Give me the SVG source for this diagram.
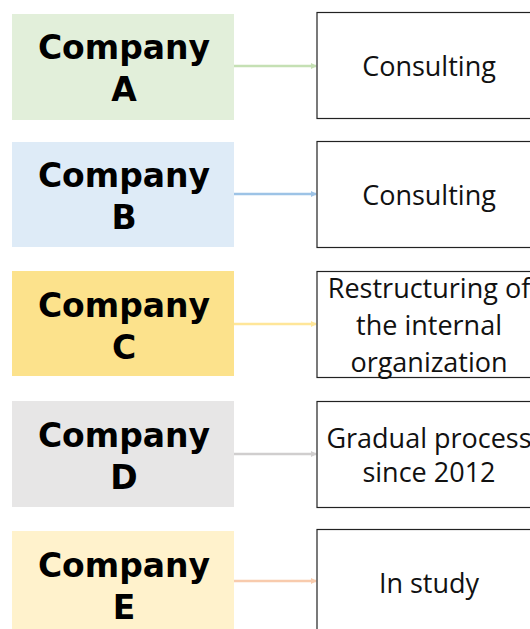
<svg xmlns="http://www.w3.org/2000/svg" width="530" height="629" viewBox="0 0 530 629">
<style>
.l{font-family:"DejaVu Sans",Lato,sans-serif;font-weight:bold;font-size:33px;fill:#000;text-anchor:middle}
.r{font-family:"Open Sans","Liberation Sans",sans-serif;font-size:27px;fill:#111;text-anchor:middle}
.rb{fill:#fff;stroke:#222;stroke-width:1.2}
.c{stroke-width:2.5;fill:none}
</style>
<defs>
<marker id="ma" markerWidth="6" markerHeight="6" refX="5" refY="3" orient="auto" markerUnits="userSpaceOnUse"><path d="M0,0 L6,3 L0,6 z" fill="#c5e0b4"/></marker>
<marker id="mb" markerWidth="6" markerHeight="6" refX="5" refY="3" orient="auto" markerUnits="userSpaceOnUse"><path d="M0,0 L6,3 L0,6 z" fill="#9dc3e6"/></marker>
<marker id="mc" markerWidth="6" markerHeight="6" refX="5" refY="3" orient="auto" markerUnits="userSpaceOnUse"><path d="M0,0 L6,3 L0,6 z" fill="#ffe699"/></marker>
<marker id="md" markerWidth="6" markerHeight="6" refX="5" refY="3" orient="auto" markerUnits="userSpaceOnUse"><path d="M0,0 L6,3 L0,6 z" fill="#d0cece"/></marker>
<marker id="me" markerWidth="6" markerHeight="6" refX="5" refY="3" orient="auto" markerUnits="userSpaceOnUse"><path d="M0,0 L6,3 L0,6 z" fill="#f8cbad"/></marker>
</defs>
<rect width="530" height="629" fill="#fff"/>
<g id="connectors">
<line class="c" x1="234" y1="66" x2="316" y2="66" stroke="#c5e0b4" marker-end="url(#ma)"/>
<line class="c" x1="234" y1="194" x2="316" y2="194" stroke="#9dc3e6" marker-end="url(#mb)"/>
<line class="c" x1="234" y1="324" x2="316" y2="324" stroke="#ffe699" marker-end="url(#mc)"/>
<line class="c" x1="234" y1="454" x2="316" y2="454" stroke="#d0cece" marker-end="url(#md)"/>
<line class="c" x1="234" y1="581" x2="316" y2="581" stroke="#f8cbad" marker-end="url(#me)"/>
</g>
<g id="companyA"><rect x="12" y="14" width="222" height="106" fill="#e2efda"/><text class="l" x="124" y="59">Company</text><text class="l" x="124" y="101">A</text></g>
<g id="companyB"><rect x="12" y="142" width="222" height="105" fill="#deebf7"/><text class="l" x="124" y="187">Company</text><text class="l" x="124" y="229">B</text></g>
<g id="companyC"><rect x="12" y="271" width="222" height="105" fill="#fce28c"/><text class="l" x="124" y="317">Company</text><text class="l" x="124" y="359">C</text></g>
<g id="companyD"><rect x="12" y="401" width="222" height="106" fill="#e7e6e6"/><text class="l" x="124" y="447">Company</text><text class="l" x="124" y="489">D</text></g>
<g id="companyE"><rect x="12" y="531" width="222" height="105" fill="#fff2cc"/><text class="l" x="124" y="577">Company</text><text class="l" x="124" y="619">E</text></g>
<g id="serviceA"><rect class="rb" x="317" y="12.5" width="220" height="106"/><text class="r" x="429" y="76">Consulting</text></g>
<g id="serviceB"><rect class="rb" x="317" y="141.5" width="220" height="106"/><text class="r" x="429" y="205">Consulting</text></g>
<g id="serviceC"><rect class="rb" x="317" y="271.5" width="220" height="106"/><text class="r" x="429" y="298">Restructuring of</text><text class="r" x="429" y="335">the internal</text><text class="r" x="429" y="372">organization</text></g>
<g id="serviceD"><rect class="rb" x="317" y="401.5" width="220" height="106"/><text class="r" x="429" y="448">Gradual process</text><text class="r" x="429" y="482">since 2012</text></g>
<g id="serviceE"><rect class="rb" x="317" y="529.5" width="220" height="106"/><text class="r" x="429" y="593">In study</text></g>
</svg>
